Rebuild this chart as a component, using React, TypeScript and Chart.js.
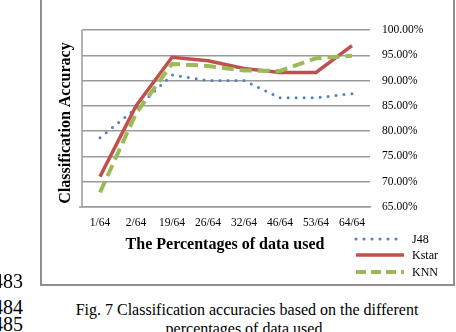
import React, { useEffect, useRef } from "react";
import { Chart, registerables } from "chart.js";

Chart.register(...registerables);

const categories = ["1/64", "2/64", "19/64", "26/64", "32/64", "46/64", "53/64", "64/64"];
const j48 = [78.7, 84.5, 91.1, 90.0, 90.0, 86.6, 86.6, 87.4];
const kstar = [71.0, 85.0, 94.6, 93.9, 92.4, 91.6, 91.6, 96.9];
const knn = [67.9, 83.5, 93.3, 92.9, 92.0, 91.9, 94.4, 94.9];
const seriesNames = ["J48", "Kstar", "KNN"];
const yTitle = "Classification Accuracy";
const xTitle = "The Percentages of data used";
const captionLines = ["Fig. 7 Classification accuracies based on the different", "percentages of data used."];
const lineNumbers = ["483", "484", "485"];

const BLUE = "#4F81BD";
const RED = "#C0504D";
const GREEN = "#9BBB59";
const SERIF = '"Liberation Serif", "Times New Roman", serif';

export default function App() {
  const ref = useRef<HTMLCanvasElement | null>(null);

  useEffect(() => {
    if (!ref.current) return;
    const extras = {
      id: "extras",
      afterDraw(chart: any) {
        const ctx = chart.ctx;
        const a = chart.chartArea;
        ctx.save();
        // left axis line
        ctx.strokeStyle = "#9a9a9a";
        ctx.lineWidth = 1.5;
        ctx.beginPath();
        ctx.moveTo(a.left, a.top);
        ctx.lineTo(a.left, a.bottom);
        ctx.moveTo(a.left - 3, a.bottom);
        ctx.lineTo(a.left, a.bottom);
        ctx.stroke();
        // y title
        ctx.fillStyle = "#000";
        ctx.font = "bold 16px " + SERIF;
        ctx.textAlign = "center";
        ctx.textBaseline = "middle";
        ctx.save();
        ctx.translate(66, 123);
        ctx.rotate(-Math.PI / 2);
        ctx.fillText(yTitle, 0, 0);
        ctx.restore();
        // x title
        ctx.fillText(xTitle, 225, 245);
        // legend
        const cols = [BLUE, RED, GREEN];
        const ys = [239, 255, 272];
        for (let i = 0; i < 3; i++) {
          ctx.strokeStyle = cols[i];
          ctx.beginPath();
          if (i === 0) {
            ctx.lineWidth = 3;
            ctx.lineCap = "round";
            ctx.setLineDash([0, 8]);
          } else if (i === 1) {
            ctx.lineWidth = 3.5;
            ctx.lineCap = "butt";
            ctx.setLineDash([]);
          } else {
            ctx.lineWidth = 4;
            ctx.lineCap = "butt";
            ctx.setLineDash([10, 5]);
          }
          ctx.moveTo(356, ys[i]);
          ctx.lineTo(404, ys[i]);
          ctx.stroke();
          ctx.setLineDash([]);
          ctx.fillStyle = "#000";
          ctx.font = "12px " + SERIF;
          ctx.textAlign = "left";
          ctx.fillText(seriesNames[i], 412, ys[i] + 1);
        }
        ctx.restore();
      },
    };
    const chart = new Chart(ref.current, {
      type: "line",
      data: {
        labels: categories,
        datasets: [
          {
            label: seriesNames[0],
            data: j48,
            borderColor: BLUE,
            borderWidth: 3,
            borderDash: [0, 8],
            borderCapStyle: "round",
            pointRadius: 0,
            tension: 0,
            order: 3,
          },
          {
            label: seriesNames[1],
            data: kstar,
            borderColor: RED,
            borderWidth: 3.5,
            pointRadius: 0,
            tension: 0,
            order: 2,
          },
          {
            label: seriesNames[2],
            data: knn,
            borderColor: GREEN,
            borderWidth: 4,
            borderDash: [12, 6],
            pointRadius: 0,
            tension: 0,
            order: 1,
          },
        ],
      },
      options: {
        animation: false,
        responsive: false,
        layout: { padding: { left: 82, top: 30, right: 0, bottom: 0 } },
        plugins: { legend: { display: false }, tooltip: { enabled: false } },
        scales: {
          x: {
            offset: true,
            grid: { display: false, drawTicks: false },
            border: { display: true, color: "#9a9a9a", width: 1.5 },
            ticks: { color: "#000", font: { family: SERIF, size: 11.5 }, padding: 9, maxRotation: 0, autoSkip: false },
            afterFit: (s: any) => {
              s.height = 79;
            },
          },
          y: {
            position: "right",
            min: 65,
            max: 100,
            grid: { color: "#9a9a9a", lineWidth: 1.5, drawTicks: false },
            border: { display: false },
            ticks: {
              stepSize: 5,
              color: "#000",
              font: { family: SERIF, size: 11.5 },
              padding: 12,
              callback: (v: any) => Number(v).toFixed(2) + "%",
            },
            afterFit: (s: any) => {
              s.width = 86;
            },
          },
        },
      },
      plugins: [extras],
    } as any);
    return () => chart.destroy();
  }, []);

  const textStyle = (centerY: number, fontSize: number): React.CSSProperties => ({
    position: "absolute",
    top: centerY - 10,
    fontSize,
    lineHeight: "20px",
    whiteSpace: "nowrap",
    color: "#000",
  });

  return (
    <div
      style={{
        position: "fixed",
        left: 0,
        top: 0,
        width: 456,
        height: 332,
        background: "#fff",
        overflow: "hidden",
        fontFamily: SERIF,
      }}
    >
      <div
        style={{
          position: "absolute",
          left: 40,
          top: -4,
          width: 411,
          height: 286,
          border: "2px solid #8f8f8f",
        }}
      />
      <canvas ref={ref} width={456} height={286} style={{ position: "absolute", left: 0, top: 0, width: 456, height: 286 }} />
      <div style={{ ...textStyle(281, 20), right: 433 }}>{lineNumbers[0]}</div>
      <div style={{ ...textStyle(307, 20), right: 433 }}>{lineNumbers[1]}</div>
      <div style={{ ...textStyle(324, 20), right: 433 }}>{lineNumbers[2]}</div>
      <div style={{ ...textStyle(310, 16), left: 0, width: 494, textAlign: "center" }}>{captionLines[0]}</div>
      <div style={{ ...textStyle(329, 16), left: 0, width: 492, textAlign: "center" }}>{captionLines[1]}</div>
    </div>
  );
}
